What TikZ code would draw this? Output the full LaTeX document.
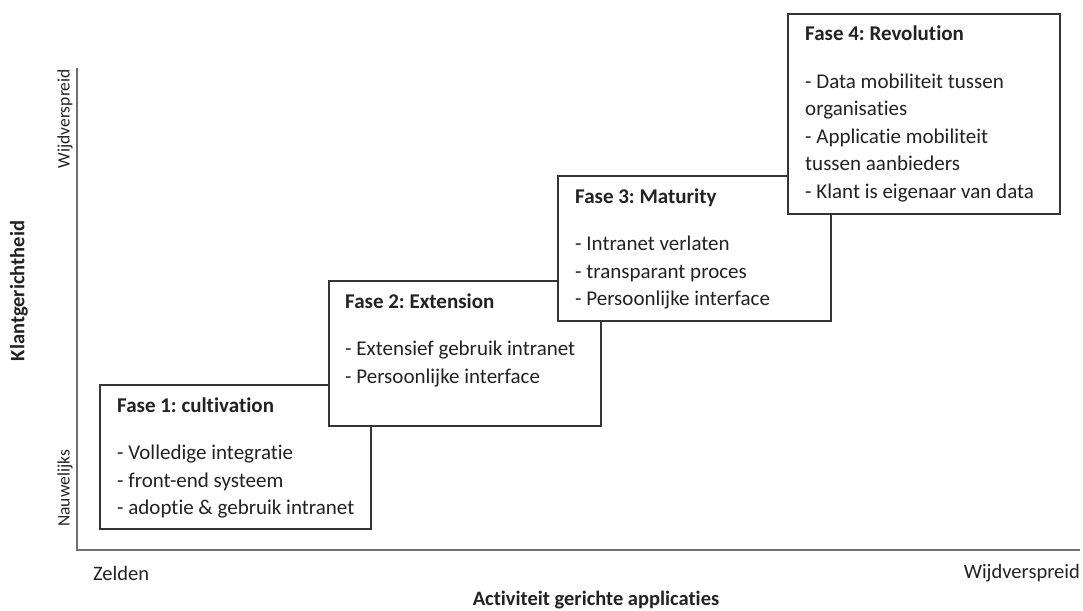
\documentclass[tikz,border=0pt]{standalone}
\usepackage{fontspec}
\setmainfont{Carlito}[Ligatures={NoCommon}]
\frenchspacing
\usetikzlibrary{calc}
\definecolor{axisgray}{HTML}{707070}
\definecolor{boxgray}{HTML}{353535}
\definecolor{ink}{HTML}{222222}
\begin{document}
\begin{tikzpicture}[x=1pt,y=-1pt,
  axis/.style={draw=axisgray, line width=2.2pt},
  phase/.style={draw=boxgray, line width=1.6pt, fill=white, inner sep=0pt, anchor=north west},
  phasetext/.style={anchor=base west, inner sep=0pt, text=ink, font=\fontsize{21}{27.5}\selectfont},
  axislabel/.style={inner sep=0pt, text=ink, font=\fontsize{20.5}{24}\selectfont},
  sidelabel/.style={axislabel, rotate=90, font=\fontsize{17.5}{21}\selectfont},
  axistitle/.style={axislabel, font=\fontsize{20.5}{24}\selectfont\bfseries}]
\useasboundingbox (0,0) rectangle (1083,610);

% axes
\coordinate (ytop) at (77,68);
\coordinate (origin) at (77,550);
\coordinate (xend) at (1080,550);
\draw[axis] (ytop) -- (origin) -- (xend);

% axis labels
\node[sidelabel, anchor=west] (ylow) at (65,527) {Nauwelijks};
\node[sidelabel, anchor=east] (yhigh) at (65,69) {Wijdverspreid};
\node[axistitle, rotate=90] (ytitle) at (19,291) {Klantgerichtheid};
\node[axislabel, anchor=west] (xlow) at (93,573) {Zelden};
\node[axislabel, anchor=east] (xhigh) at (1080,573) {Wijdverspreid};
\node[axistitle] (xtitle) at (596,600) {Activiteit gerichte applicaties};

% phase 1
\node[phase, minimum width=271pt, minimum height=144pt] (b1) at (99,384) {};
\node[phasetext] (t1) at ($(b1.north west)+(18,28)$) {\parbox[t]{250pt}{\raggedright
  \textbf{Fase 1: cultivation}\\[20pt]
  - Volledige integratie\\
  - front-end systeem\\
  - adoptie \& gebruik intranet}};

% phase 2
\node[phase, minimum width=272pt, minimum height=145pt] (b2) at (328,280) {};
\node[phasetext] (t2) at ($(b2.north west)+(17,28)$) {\parbox[t]{250pt}{\raggedright
  \textbf{Fase 2: Extension}\\[20pt]
  - Extensief gebruik intranet\\
  - Persoonlijke interface}};

% phase 3
\node[phase, minimum width=273pt, minimum height=145pt] (b3) at (557,175) {};
\node[phasetext] (t3) at ($(b3.north west)+(18,28)$) {\parbox[t]{250pt}{\raggedright
  \textbf{Fase 3: Maturity}\\[20pt]
  - Intranet verlaten\\
  - transparant proces\\
  - Persoonlijke interface}};

% phase 4
\node[phase, minimum width=272pt, minimum height=200pt] (b4) at (787,13) {};
\node[phasetext] (t4) at ($(b4.north west)+(18,28)$) {\parbox[t]{250pt}{\raggedright
  \textbf{Fase 4: Revolution}\\[20pt]
  - Data mobiliteit tussen\\
  organisaties\\
  - Applicatie mobiliteit\\
  tussen aanbieders\\
  - Klant is eigenaar van data}};
\end{tikzpicture}
\end{document}
